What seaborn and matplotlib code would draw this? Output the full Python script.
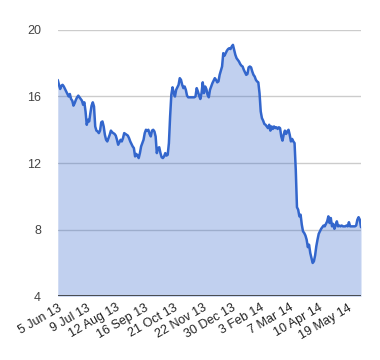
import numpy as np
import pandas as pd
import seaborn as sns
import matplotlib.pyplot as plt

# Closing price, one value per trading day (5 Jun 13 -> early Jun 14)
prices = [
    16.99, 16.70, 16.45, 16.65, 16.70, 16.60, 16.45, 16.30, 16.15, 16.00,
    16.15, 15.85, 15.75, 15.45, 15.60, 15.80, 15.95, 16.05, 15.95, 15.85,
    15.75, 15.50, 15.65, 15.10, 14.30, 14.60, 14.50, 15.00, 15.45, 15.65,
    15.40, 14.20, 13.95, 13.90, 13.80, 13.95, 14.45, 14.50, 14.20, 13.70,
    13.40, 13.30, 13.50, 13.70, 13.95, 13.85, 13.80, 13.75, 13.65, 13.40,
    13.10, 13.25, 13.40, 13.30, 13.50, 13.80, 13.75, 13.70, 13.65, 13.50,
    13.30, 13.15, 13.00, 12.90, 12.40, 12.55, 12.45, 12.30, 12.60, 13.00,
    13.20, 13.40, 13.80, 14.00, 13.95, 14.00, 13.75, 13.60, 13.95, 14.00,
    13.90, 13.60, 12.60, 12.90, 12.95, 12.60, 12.35, 12.30, 12.40, 12.60,
    12.45, 12.50, 13.20, 14.80, 16.10, 16.55, 16.20, 16.00, 16.40, 16.55,
    16.70, 17.10, 17.00, 16.70, 16.50, 16.60, 16.40, 16.05, 15.95, 15.95,
    15.95, 15.95, 15.95, 15.95, 16.00, 16.50, 16.30, 16.05, 15.85, 16.20,
    16.85, 16.20, 16.60, 16.45, 16.10, 15.95, 16.40, 16.60, 16.80, 16.95,
    17.10, 17.00, 16.85, 16.90, 17.30, 17.55, 17.80, 18.60, 18.45, 18.60,
    18.75, 18.85, 18.90, 18.85, 19.00, 19.10, 18.80, 18.50, 18.30, 18.20,
    18.10, 17.95, 17.85, 17.80, 17.60, 17.45, 17.30, 17.35, 17.75, 17.80,
    17.75, 17.50, 17.30, 17.20, 17.00, 16.90, 16.85, 16.20, 15.10, 14.70,
    14.55, 14.35, 14.30, 14.20, 14.10, 14.30, 13.95, 14.20, 14.05, 14.20,
    14.10, 14.15, 14.05, 14.15, 14.10, 13.60, 13.35, 13.70, 13.95, 13.75,
    13.90, 14.00, 13.70, 13.30, 13.45, 13.30, 13.20, 11.60, 9.35, 9.20,
    8.80, 8.90, 8.30, 7.90, 7.80, 7.65, 7.40, 6.95, 7.10, 6.60,
    6.30, 6.00, 6.10, 6.45, 7.00, 7.40, 7.75, 7.90, 8.05, 8.15,
    8.25, 8.20, 8.35, 8.50, 8.80, 8.40, 8.70, 8.20, 8.35, 8.05,
    8.25, 8.50, 8.20, 8.25, 8.20, 8.25, 8.20, 8.20, 8.20, 8.25,
    8.20, 8.45, 8.20, 8.20, 8.20, 8.20, 8.20, 8.25, 8.60, 8.75,
    8.60, 8.15,
]

date_labels = ["5 Jun 13", "9 Jul 13", "12 Aug 13", "16 Sep 13", "21 Oct 13",
               "22 Nov 13", "30 Dec 13", "3 Feb 14", "7 Mar 14", "10 Apr 14",
               "19 May 14"]
label_every = 24

y_ticks = [4, 8, 12, 16, 20]

df = pd.DataFrame({"day": np.arange(len(prices)), "price": prices})

sns.set_style("white")
plt.rcParams['font.family'] = ['Liberation Sans', 'DejaVu Sans']

fig = plt.figure(figsize=(3.8, 3.6), dpi=100)
ax = fig.add_axes([0.152, 0.177, 0.798, 0.74])

# Gridlines
for t in y_ticks[1:]:
    ax.axhline(t, color="#cccccc", lw=1, zorder=1)

# Area + line
ax.fill_between(df["day"], 4, df["price"], color="#3366cc", alpha=0.3,
                lw=0, zorder=2)
sns.lineplot(data=df, x="day", y="price", ax=ax, color="#3366cc", lw=1.8,
             zorder=3)
ax.axhline(4, color="#333333", lw=1.2, zorder=4)

ax.set_xlim(0, len(prices) - 1)
ax.set_ylim(4, 20)
ax.set_yticks(y_ticks)
ax.set_yticklabels([str(t) for t in y_ticks], fontsize=9, color="#444444")
ax.set_xticks(np.arange(len(date_labels)) * label_every)
ax.set_xticklabels(date_labels, fontsize=9, color="#222222", rotation=30,
                   ha="right", va="top", rotation_mode="anchor")
ax.tick_params(axis="both", length=0)
ax.tick_params(axis="y", pad=12)
ax.tick_params(axis="x", pad=4)
ax.set_xlabel("")
ax.set_ylabel("")
sns.despine(ax=ax, left=True, bottom=True, top=True, right=True)

fig.savefig("out.png", dpi=100)
